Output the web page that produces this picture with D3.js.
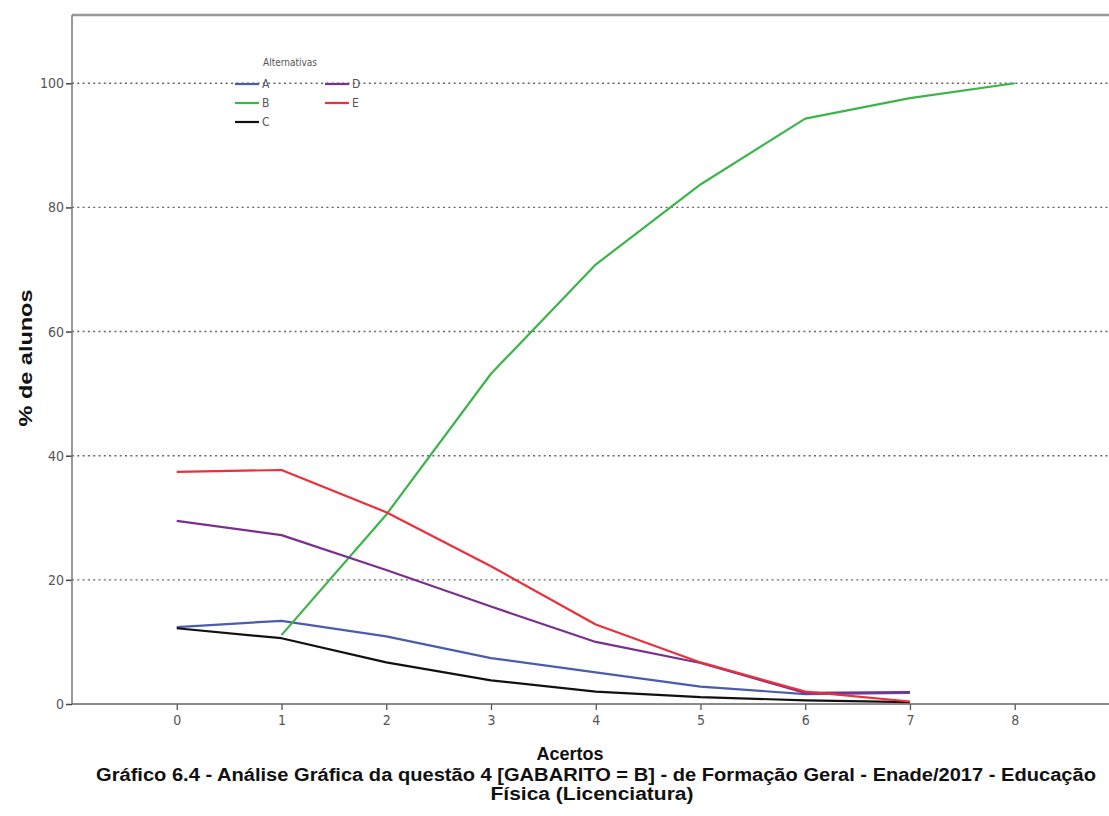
<!DOCTYPE html>
<html>
<head>
<meta charset="utf-8">
<script src="https://cdn.jsdelivr.net/npm/d3@7"></script>
<style>
  body { margin: 0; background: #fff; }
  .narrow { font-family: "Liberation Sans Narrow", "DejaVu Sans Condensed", "Liberation Sans", sans-serif; }
  .bold { font-family: "Liberation Sans", Arial, sans-serif; font-weight: bold; }
</style>
</head>
<body>
<svg id="chart" width="1109" height="816"></svg>
<script>
// ========== Data ==========

const acertos = [0, 1, 2, 3, 4, 5, 6, 7, 8];
const yTicks = [0, 20, 40, 60, 80, 100];

const serieA = [12.4, 13.4, 10.9, 7.4, 5.1, 2.8, 1.6, 1.8];
const serieB = [null, 11.1, 30.5, 53.2, 70.8, 83.7, 94.3, 97.6, 100];
const serieC = [12.2, 10.6, 6.7, 3.8, 2.0, 1.1, 0.6, 0.3];
const serieD = [29.5, 27.2, 21.6, 15.7, 10.0, 6.6, 1.8, 1.9];
const serieE = [37.4, 37.7, 30.9, 22.2, 12.8, 6.7, 2.0, 0.4];

const series = [
    { name: "A", values: serieA, color: "#4a5cae" },
    { name: "B", values: serieB, color: "#3bb54a" },
    { name: "C", values: serieC, color: "#111111" },
    { name: "D", values: serieD, color: "#7b2f8c" },
    { name: "E", values: serieE, color: "#ec2f3b" }
];

// ========== Layout ==========

const svg = d3.select("#chart");
const plot = { left: 72, top: 15, right: 1109, bottom: 704 };

const x = d3.scaleLinear().domain([-1, 8.9]).range([plot.left, plot.right]);
const y = d3.scaleLinear().domain([0, 111]).range([plot.bottom, plot.top]);

// gridlines
svg.append("g")
    .selectAll("line")
    .data(yTicks.filter(d => d > 0))
    .join("line")
    .attr("x1", plot.left)
    .attr("x2", plot.right)
    .attr("y1", d => y(d))
    .attr("y2", d => y(d))
    .attr("stroke", "#666")
    .attr("stroke-width", 1.4)
    .attr("stroke-dasharray", "2,3.3");

// frame (top + left)
svg.append("line")
    .attr("x1", plot.left).attr("x2", plot.right)
    .attr("y1", plot.top).attr("y2", plot.top)
    .attr("stroke", "#999").attr("stroke-width", 2.4);

// y axis
const yAxis = svg.append("g")
    .attr("transform", `translate(${plot.left},0)`)
    .call(d3.axisLeft(y).tickValues(yTicks).tickSize(6).tickPadding(2));
yAxis.select(".domain").remove();
yAxis.append("line")
    .attr("y1", plot.top).attr("y2", plot.bottom)
    .attr("stroke", "#777").attr("stroke-width", 1.5);
yAxis.selectAll(".tick line").attr("stroke", "#444").attr("stroke-width", 1.5);
yAxis.selectAll(".tick text")
    .attr("class", "narrow")
    .attr("fill", "#555")
    .style("font-size", "14px");

// x axis
const xAxis = svg.append("g")
    .attr("transform", `translate(0,${plot.bottom})`)
    .call(d3.axisBottom(x).tickValues(acertos).tickSize(6).tickPadding(5));
xAxis.select(".domain").remove();
xAxis.append("line")
    .attr("x1", plot.left).attr("x2", plot.right)
    .attr("stroke", "#666").attr("stroke-width", 1.5);
xAxis.selectAll(".tick line").attr("stroke", "#555").attr("stroke-width", 1.3);
xAxis.selectAll(".tick text")
    .attr("class", "narrow")
    .attr("fill", "#555")
    .style("font-size", "14px");

// ========== Lines ==========

const line = d3.line()
    .defined(d => d != null)
    .x((d, i) => x(acertos[i]))
    .y(d => y(d));

svg.append("g")
    .selectAll("path")
    .data(series)
    .join("path")
    .attr("fill", "none")
    .attr("stroke", d => d.color)
    .attr("stroke-width", 2.2)
    .attr("stroke-linejoin", "round")
    .attr("d", d => line(d.values));

// ========== Legend ==========

const legend = svg.append("g").attr("class", "narrow");
legend.append("text")
    .attr("x", 263).attr("y", 66)
    .attr("fill", "#555")
    .style("font-size", "10px")
    .text("Alternativas");

const legendPos = {
    A: [235, 84], B: [235, 103], C: [235, 122],
    D: [325, 84], E: [325, 103]
};

const items = legend.selectAll(".item")
    .data(series)
    .join("g")
    .attr("transform", d => `translate(${legendPos[d.name][0]},${legendPos[d.name][1]})`);
items.append("line")
    .attr("x1", 0).attr("x2", 24)
    .attr("stroke", d => d.color)
    .attr("stroke-width", 2.2);
items.append("text")
    .attr("x", 27).attr("y", 4)
    .attr("fill", "#555")
    .style("font-size", "12px")
    .text(d => d.name);

// ========== Titles ==========

function boldText(tx, ty, str, len, rotate) {
    return svg.append("text")
        .attr("class", "bold")
        .attr("transform", `translate(${tx},${ty})` + (rotate ? " rotate(-90)" : ""))
        .attr("text-anchor", "middle")
        .attr("textLength", len)
        .attr("lengthAdjust", "spacingAndGlyphs")
        .style("font-size", "18px")
        .attr("fill", "#111")
        .text(str);
}

boldText(32, 358, "% de alunos", 137, true);
boldText(570, 760, "Acertos", 67, false);
boldText(596, 781, "Gráfico 6.4 - Análise Gráfica da questão 4 [GABARITO = B] - de Formação Geral - Enade/2017 - Educação", 1000, false);
boldText(592, 800, "Física (Licenciatura)", 203, false);
</script>
</body>
</html>
